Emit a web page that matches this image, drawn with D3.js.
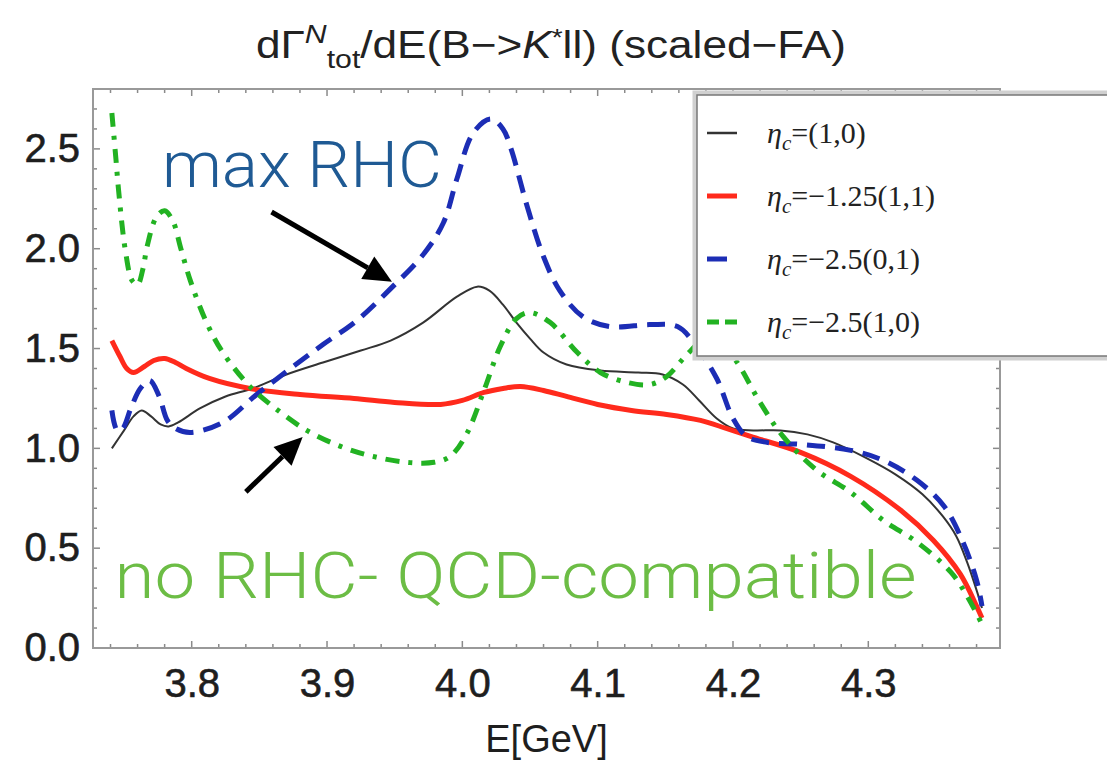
<!DOCTYPE html>
<html>
<head>
<meta charset="utf-8">
<script src="https://cdn.jsdelivr.net/npm/d3@7"></script>
<style>
  body { margin: 0; background: #fff; }
  svg { display: block; }
</style>
</head>
<body>
<div id="chart"></div>
<script>
// dGamma/dE (B -> K* l l), four eta_c settings
const eta10 = [
  [3.741,1.00],[3.750,1.09],[3.757,1.16],[3.763,1.19],[3.770,1.16],[3.777,1.12],[3.783,1.11],
  [3.790,1.13],[3.806,1.20],[3.825,1.26],[3.845,1.30],[3.870,1.37],[3.897,1.43],[3.925,1.49],
  [3.947,1.54],[3.971,1.63],[3.996,1.76],[4.011,1.81],[4.020,1.79],[4.030,1.72],[4.040,1.63],
  [4.050,1.55],[4.060,1.48],[4.077,1.42],[4.102,1.39],[4.130,1.38],[4.148,1.37],[4.163,1.32],
  [4.175,1.24],[4.188,1.15],[4.200,1.10],[4.215,1.09],[4.235,1.09],[4.255,1.07],[4.274,1.03],
  [4.299,0.95],[4.320,0.87],[4.340,0.77],[4.355,0.66],[4.365,0.56],[4.373,0.43],[4.380,0.29],
  [4.384,0.20]
];
const eta125 = [
  [3.741,1.54],[3.747,1.46],[3.752,1.40],[3.757,1.38],[3.765,1.41],[3.772,1.44],[3.780,1.45],
  [3.788,1.43],[3.796,1.40],[3.813,1.35],[3.843,1.30],[3.880,1.27],[3.920,1.25],[3.950,1.23],
  [3.984,1.22],[4.000,1.24],[4.016,1.28],[4.030,1.30],[4.043,1.31],[4.060,1.29],[4.077,1.26],
  [4.100,1.22],[4.125,1.19],[4.151,1.17],[4.176,1.14],[4.195,1.10],[4.213,1.06],[4.250,0.98],
  [4.287,0.86],[4.324,0.69],[4.348,0.54],[4.368,0.37],[4.380,0.21],[4.384,0.15]
];
const eta25a = [
  [3.741,1.19],[3.745,1.09],[3.749,1.10],[3.755,1.20],[3.762,1.30],[3.769,1.34],[3.776,1.26],
  [3.782,1.14],[3.788,1.10],[3.799,1.08],[3.823,1.13],[3.848,1.27],[3.873,1.40],[3.897,1.52],
  [3.922,1.64],[3.947,1.80],[3.971,1.97],[3.986,2.13],[3.996,2.35],[4.008,2.58],[4.021,2.65],
  [4.030,2.60],[4.036,2.50],[4.048,2.21],[4.060,1.96],[4.072,1.79],[4.089,1.66],[4.109,1.61],
  [4.139,1.62],[4.159,1.61],[4.171,1.53],[4.188,1.35],[4.200,1.15],[4.210,1.06],[4.225,1.03],
  [4.250,1.02],[4.287,0.99],[4.311,0.94],[4.336,0.84],[4.356,0.71],[4.370,0.53],[4.380,0.34],
  [4.384,0.21]
];
const eta25b = [
  [3.741,2.68],[3.744,2.45],[3.746,2.29],[3.751,1.99],[3.756,1.84],[3.760,1.82],[3.764,1.90],
  [3.767,2.01],[3.774,2.16],[3.780,2.19],[3.786,2.14],[3.792,2.00],[3.799,1.84],[3.811,1.63],
  [3.823,1.48],[3.843,1.31],[3.860,1.21],[3.885,1.09],[3.910,1.01],[3.934,0.96],[3.959,0.93],
  [3.979,0.93],[3.991,0.96],[4.003,1.07],[4.016,1.29],[4.028,1.51],[4.040,1.65],[4.050,1.68],
  [4.065,1.63],[4.085,1.48],[4.102,1.38],[4.122,1.33],[4.139,1.32],[4.151,1.36],[4.166,1.47],
  [4.178,1.54],[4.190,1.52],[4.202,1.44],[4.220,1.23],[4.237,1.06],[4.262,0.89],[4.287,0.78],
  [4.311,0.64],[4.336,0.53],[4.361,0.38],[4.373,0.26],[4.384,0.12]
];

const legendLabels = ["=(1,0)", "=\u22121.25(1,1)", "=\u22122.5(0,1)", "=\u22122.5(1,0)"];
const xTicks = [3.8, 3.9, 4.0, 4.1, 4.2, 4.3];
const yTicks = [0.0, 0.5, 1.0, 1.5, 2.0, 2.5];

// annotations: [E, value] of arrow tails and tips, text anchors
const arrowRHC = [[3.859, 2.184], [3.948, 1.834]];
const arrowQCD = [[3.840, 0.782], [3.882, 1.057]];
const textRHC = [3.778, 2.31];
const textQCD = [3.743, 0.25];

const width = 1107, height = 761;
const plot = { left: 93, right: 1000, top: 89, bottom: 648 };

const x = d3.scaleLinear().domain([3.72706, 4.39732]).range([plot.left, plot.right]);
const y = d3.scaleLinear().domain([0, 2.8]).range([plot.bottom, plot.top]);

const svg = d3.select("#chart").append("svg")
    .attr("width", width)
    .attr("height", height)
    .style("background", "#fff");

// title
const title = svg.append("text")
    .attr("x", 551)
    .attr("y", 58)
    .attr("text-anchor", "middle")
    .attr("textLength", 590)
    .attr("lengthAdjust", "spacingAndGlyphs")
    .style("font-family", "Liberation Sans, Arial, sans-serif")
    .style("font-size", "38px")
    .style("fill", "#222");
title.append("tspan").text("d\u0393");
title.append("tspan").attr("dy", -15).style("font-size", "26px").style("font-style", "italic").text("N");
title.append("tspan").attr("dy", 25).style("font-size", "26px").text("tot");
title.append("tspan").attr("dy", -10).text("/dE(B\u2212>");
title.append("tspan").style("font-style", "italic").text("K");
title.append("tspan").attr("dy", -12).style("font-size", "24px").text("*");
title.append("tspan").attr("dy", 12).text("ll) (scaled\u2212FA)");

// frame ticks
const tickColor = "#8a8a8a";
const xMinor = d3.range(3.74, 4.39, 0.02);
const yMinor = d3.range(0, 2.81, 0.1);

const ticks = svg.append("g").attr("stroke", tickColor).attr("stroke-width", 1.5);
function isMajor(v, step) { return Math.abs(v / step - Math.round(v / step)) < 1e-6; }

ticks.selectAll("line.xb").data(xMinor).join("line")
    .attr("x1", d => x(d)).attr("x2", d => x(d))
    .attr("y1", plot.bottom).attr("y2", d => plot.bottom - (isMajor(d, 0.1) ? 7 : 4));
ticks.selectAll("line.xt").data(xMinor).join("line")
    .attr("x1", d => x(d)).attr("x2", d => x(d))
    .attr("y1", plot.top).attr("y2", d => plot.top + (isMajor(d, 0.1) ? 7 : 4));
ticks.selectAll("line.yl").data(yMinor).join("line")
    .attr("y1", d => y(d)).attr("y2", d => y(d))
    .attr("x1", plot.left).attr("x2", d => plot.left + (isMajor(d, 0.5) ? 7 : 4));
ticks.selectAll("line.yr").data(yMinor).join("line")
    .attr("y1", d => y(d)).attr("y2", d => y(d))
    .attr("x1", plot.right).attr("x2", d => plot.right - (isMajor(d, 0.5) ? 7 : 4));

svg.append("rect")
    .attr("x", plot.left).attr("y", plot.top)
    .attr("width", plot.right - plot.left).attr("height", plot.bottom - plot.top)
    .attr("fill", "none").attr("stroke", "#999").attr("stroke-width", 2);

// tick labels
const xAxis = svg.append("g")
    .attr("transform", `translate(0,${plot.bottom})`)
    .call(d3.axisBottom(x).tickValues(xTicks).tickFormat(d3.format(".1f")).tickSize(0).tickPadding(21));
const yAxis = svg.append("g")
    .attr("transform", `translate(${plot.left},0)`)
    .call(d3.axisLeft(y).tickValues(yTicks).tickFormat(d3.format(".1f")).tickSize(0).tickPadding(13));
[xAxis, yAxis].forEach(a => {
    a.select(".domain").remove();
    a.selectAll("text")
        .style("font-family", "Liberation Sans, Arial, sans-serif")
        .style("font-size", "40px")
        .attr("fill", "#1e1e1e")
        .attr("stroke", "#1e1e1e")
        .attr("stroke-width", 0.6);
});

svg.append("text")
    .attr("x", (plot.left + plot.right) / 2)
    .attr("y", 752)
    .attr("text-anchor", "middle")
    .style("font-family", "Liberation Sans, Arial, sans-serif")
    .style("font-size", "38px")
    .style("fill", "#1e1e1e")
    .text("E[GeV]");

// curves
const line = d3.line()
    .x(d => x(d[0]))
    .y(d => y(d[1]))
    .curve(d3.curveCatmullRom.alpha(0.5));

const series = [
    { data: eta10, color: "#333", width: 2, dash: null },
    { data: eta125, color: "#ff2a1c", width: 5, dash: null },
    { data: eta25a, color: "#1c2db5", width: 5, dash: "18,10" },
    { data: eta25b, color: "#22b222", width: 5, dash: "14,9,4,9" }
];

svg.append("g")
    .attr("fill", "none")
    .selectAll("path")
    .data(series)
    .join("path")
    .attr("d", d => line(d.data))
    .attr("stroke", d => d.color)
    .attr("stroke-width", d => d.width)
    .attr("stroke-dasharray", d => d.dash)
    .attr("stroke-linejoin", "round");

// legend
const lg = svg.append("g").attr("transform", "translate(697,95)");
lg.append("rect")
    .attr("x", -2).attr("y", -2).attr("width", 420).attr("height", 265)
    .attr("fill", "#fff").attr("stroke", "#d0d0d0").attr("stroke-width", 5);
lg.append("rect")
    .attr("width", 420).attr("height", 261)
    .attr("fill", "#fff").attr("stroke", "#777").attr("stroke-width", 1.5);

const rowY = d3.scalePoint().domain(d3.range(series.length)).range([38, 227]);
const rows = lg.selectAll("g.row")
    .data(series)
    .join("g")
    .attr("class", "row")
    .attr("transform", (d, i) => `translate(0,${rowY(i)})`);

rows.append("line")
    .attr("x1", 10).attr("x2", 40)
    .attr("y1", 0).attr("y2", 0)
    .attr("stroke", d => d.color)
    .attr("stroke-width", d => d.width === 2 ? 2.5 : 5)
    .attr("stroke-dasharray", (d, i) => i === 2 ? "20,20" : i === 3 ? "12,6,14,6" : null);

const lt = rows.append("text")
    .attr("x", 70)
    .attr("y", 10)
    .style("font-family", "Liberation Serif, Times New Roman, serif")
    .style("font-size", "30px")
    .style("fill", "#222");
lt.append("tspan").style("font-style", "italic").text("\u03b7");
lt.append("tspan").attr("dy", 7).style("font-style", "italic").style("font-size", "21px").text("c");
lt.append("tspan").attr("dy", -7).text((d, i) => legendLabels[i]);

// annotations
function arrow(pts) {
    const [t0, t1] = pts.map(p => [x(p[0]), y(p[1])]);
    const ang = Math.atan2(t1[1] - t0[1], t1[0] - t0[0]);
    const L = 28, W = 13;
    const bx = t1[0] - L * Math.cos(ang), by = t1[1] - L * Math.sin(ang);
    svg.append("line")
        .attr("x1", t0[0]).attr("y1", t0[1]).attr("x2", bx).attr("y2", by)
        .attr("stroke", "#000").attr("stroke-width", 5);
    svg.append("path")
        .attr("d", d3.line()([
            t1,
            [bx + W * Math.sin(ang), by - W * Math.cos(ang)],
            [bx - W * Math.sin(ang), by + W * Math.cos(ang)]
        ]) + "Z")
        .attr("fill", "#000");
}
arrow(arrowRHC);
arrow(arrowQCD);

svg.append("text")
    .attr("x", x(textRHC[0])).attr("y", y(textRHC[1]))
    .attr("textLength", 280).attr("lengthAdjust", "spacingAndGlyphs")
    .style("font-family", "Roboto, Liberation Sans, sans-serif")
    .style("font-weight", 300)
    .style("font-size", "64px")
    .style("fill", "#1f5a94")
    .text("max RHC");

svg.append("text")
    .attr("x", x(textQCD[0])).attr("y", y(textQCD[1]))
    .attr("textLength", 802).attr("lengthAdjust", "spacingAndGlyphs")
    .style("font-family", "Roboto, Liberation Sans, sans-serif")
    .style("font-weight", 300)
    .style("font-size", "64px")
    .style("fill", "#6cbd45")
    .text("no RHC- QCD-compatible");
</script>
</body>
</html>
